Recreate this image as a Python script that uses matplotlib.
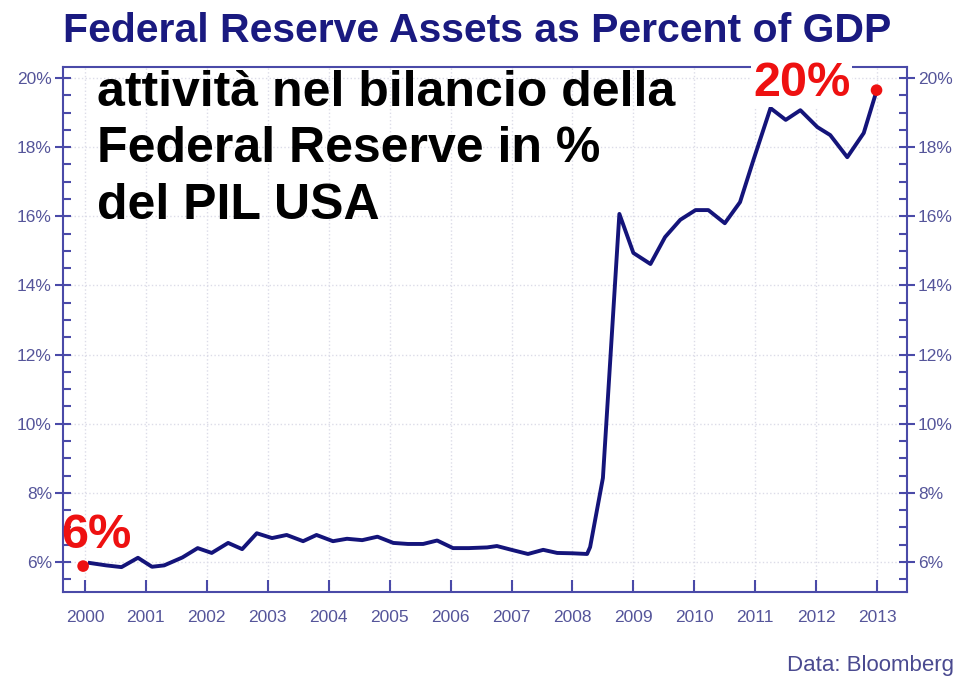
import matplotlib
matplotlib.use("Agg")
import matplotlib.pyplot as plt
from matplotlib.ticker import MultipleLocator, FuncFormatter

years = [2000.08, 2000.35, 2000.6, 2000.87, 2001.1, 2001.3, 2001.6, 2001.85, 2002.08, 2002.35,
         2002.58, 2002.82, 2003.07, 2003.31, 2003.58, 2003.8, 2004.07, 2004.3, 2004.55, 2004.8,
         2005.06, 2005.3, 2005.55, 2005.78, 2006.04, 2006.3, 2006.6, 2006.76, 2007.0, 2007.27,
         2007.52, 2007.75, 2008.0, 2008.24, 2008.29, 2008.5, 2008.77, 2009.0, 2009.28, 2009.52,
         2009.77, 2010.02, 2010.23, 2010.5, 2010.75, 2010.97, 2011.25, 2011.5, 2011.74, 2012.02,
         2012.23, 2012.51, 2012.78, 2012.97]
pct = [5.97, 5.9, 5.85, 6.12, 5.86, 5.9, 6.13, 6.4, 6.26, 6.55,
       6.37, 6.83, 6.69, 6.78, 6.6, 6.78, 6.6, 6.67, 6.63, 6.73,
       6.55, 6.52, 6.52, 6.62, 6.4, 6.4, 6.42, 6.46, 6.35, 6.23,
       6.35, 6.26, 6.25, 6.23, 6.43, 8.43, 16.07, 14.94, 14.62, 15.4,
       15.9, 16.18, 16.18, 15.8, 16.41, 17.63, 19.13, 18.79, 19.07, 18.58,
       18.35, 17.71, 18.41, 19.51]
marker_x = [1999.97, 2012.99]
marker_y = [5.88, 19.65]
marker_labels = ["6%", "20%"]
year_ticks = list(range(2000, 2014))

axis_col = "#4a4aa8"
label_col = "#55559a"
line_col = "#14147a"
fam = ["Liberation Sans", "DejaVu Sans"]

fig = plt.figure(figsize=(9.58, 6.86), dpi=100)
ax = fig.add_axes([63/958, 1-592/686, (907-63)/958, (592-67)/686])
ax.plot(years, pct, color=line_col, lw=2.8, solid_joinstyle="round", zorder=3)
ax.scatter(marker_x, marker_y, s=70, color="#ee1111", zorder=4, edgecolors="none")

ax.set_xlim(1999.64, 2013.49)
ax.set_ylim(5.13, 20.32)
ax.set_xticks(year_ticks)
ax.set_xticklabels([str(y) for y in year_ticks])
ax.yaxis.set_major_locator(MultipleLocator(2))
ax.yaxis.set_minor_locator(MultipleLocator(0.5))
ax.yaxis.set_major_formatter(FuncFormatter(lambda v, p: f"{v:.0f}%"))
ax.set_yticks([6, 8, 10, 12, 14, 16, 18, 20])

for s in ax.spines.values():
    s.set_color(axis_col)
    s.set_linewidth(1.5)

ax.tick_params(axis="y", which="major", direction="inout", length=12, width=1.5,
               color=axis_col, labelcolor=label_col, labelsize=12.5, left=True, right=True,
               labelleft=True, labelright=True, pad=2)
ax.tick_params(axis="y", which="minor", direction="in", length=6, width=1.5,
               color=axis_col, left=True, right=True)
ax.tick_params(axis="x", which="major", direction="in", length=9, width=1.5,
               color=axis_col, labelcolor=label_col, labelsize=12.5, pad=13)
for lbl in ax.get_xticklabels() + ax.get_yticklabels():
    lbl.set_family(fam)
ax.grid(True, which="major", color="#dcdce8", linestyle=":", linewidth=1, zorder=0)

fig.text(477.5/958, 1 - 31.5/686, "Federal Reserve Assets as Percent of GDP",
         ha="center", va="center", fontsize=29.5, fontweight="bold", color="#1a1a80",
         family=fam)

ax.text(0.04, 0.995, "attività nel bilancio della\nFederal Reserve in %\ndel PIL USA",
        transform=ax.transAxes, ha="left", va="top", fontsize=36, fontweight="bold",
        color="black", family=fam, linespacing=1.3, zorder=5)

ax.annotate(marker_labels[0], (marker_x[0], marker_y[0]), xytext=(-15.5, 13),
            textcoords="offset points", ha="left", va="baseline", fontsize=35,
            fontweight="bold", color="#ee1111", family=fam,
            zorder=6, annotation_clip=False)
ax.annotate(marker_labels[1], (marker_x[1], marker_y[1]), xytext=(-19, -4),
            textcoords="offset points", ha="right", va="baseline", fontsize=35,
            fontweight="bold", color="#ee1111", family=fam,
            zorder=6, annotation_clip=False,
            bbox=dict(facecolor="white", edgecolor="none", pad=1))

fig.text(954/958, 1 - 665/686, "Data: Bloomberg", ha="right", va="center",
         fontsize=16, color="#4a4a90", family=fam)

fig.savefig("out.png", dpi=100, facecolor="white")
